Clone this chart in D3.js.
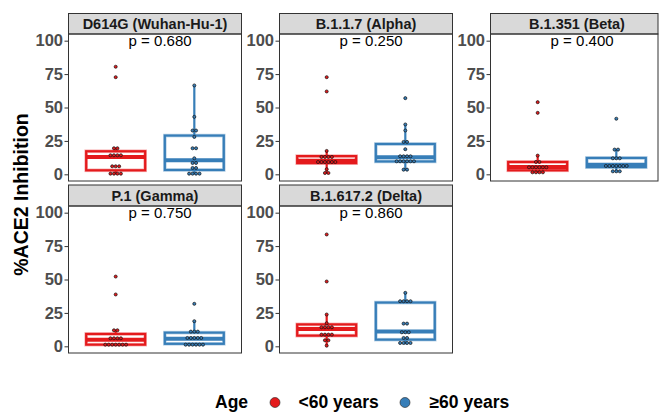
<!DOCTYPE html>
<html>
<head>
<meta charset="utf-8">
<script src="https://cdn.jsdelivr.net/npm/d3@7"></script>
<style>
  html, body { margin: 0; padding: 0; background: #fff; }
  svg { display: block; }
</style>
</head>
<body>
<svg id="chart" width="659" height="413"></svg>
<script>
// ---------- data ----------
const variants = ["D614G (Wuhan-Hu-1)", "B.1.1.7 (Alpha)", "B.1.351 (Beta)", "P.1 (Gamma)", "B.1.617.2 (Delta)"];
const pLabels = ["p = 0.680", "p = 0.250", "p = 0.400", "p = 0.750", "p = 0.860"];
const ageGroups = ["<60 years", "\u226560 years"];
const ageColors = ["#E41A1C", "#377EB8"];
const yTicks = [0, 25, 50, 75, 100];

// %ACE2 inhibition, age < 60 years, one array per variant
const under60 = [
  [0, 0, 0, 1, 5, 6, 7, 13, 13.5, 14, 15.5, 19, 20, 72.7, 80.5],
  [0.5, 1.5, 3.8, 8, 8.5, 8.8, 9.2, 9.8, 10.4, 12, 13, 13.5, 14, 17.5, 62, 72.7],
  [1, 1, 2, 2, 4, 4.5, 5, 5.5, 6, 6.5, 8.5, 10, 14, 46, 54],
  [0.5, 0.5, 1, 1, 1.5, 2, 2, 5, 5.5, 6, 7, 11.5, 12.5, 38.8, 52.2],
  [0.5, 4, 5, 7.5, 8.5, 9, 10, 13, 14, 14.5, 15.5, 17.3, 23.8, 48.5, 83.7]
];
// %ACE2 inhibition, age >= 60 years, one array per variant
const over60 = [
  [0, 0, 0, 1, 4, 5.5, 8, 9, 12, 19, 20, 28, 32, 33.5, 43, 66.5],
  [3, 4, 8.5, 9, 9.5, 10, 10.5, 11, 12.5, 13, 13.5, 14.5, 18.8, 24, 24.5, 32.8, 37.3, 57],
  [1.5, 2.5, 3, 5, 5.5, 6, 6.5, 7, 7.2, 7.5, 11, 12, 13, 18, 19, 41.6],
  [0.5, 1, 1, 1.5, 2, 2, 5, 5.5, 6, 6.5, 7.5, 10, 11, 12, 18.8, 31.8],
  [1.5, 2, 2.5, 3.5, 5.5, 7, 9.5, 10.5, 11.5, 16.5, 17.5, 32.5, 33.5, 34, 35, 40]
];

// ---------- layout ----------
const svg = d3.select("#chart");
const font = "'Liberation Sans', Arial, Helvetica, sans-serif";
const panelW = 173;
const colLefts = [68.5, 279.5, 490.5];
const rows = [
  { stripTop: 13.5, plotTop: 34, plotBottom: 181 },
  { stripTop: 185, plotTop: 206, plotBottom: 353 }
];
const maxRight = 658;

const allVals = under60.flat().concat(over60.flat());
const binwidth = (d3.max(allVals) - d3.min(allVals)) / 30;

function dotBins(vals) {
  const s = vals.slice().sort((a, b) => a - b);
  const bins = [];
  let i = 0;
  while (i < s.length) {
    let j = i;
    while (j < s.length && s[j] < s[i] + binwidth) j++;
    bins.push({ center: (s[i] + s[j - 1]) / 2, count: j - i });
    i = j;
  }
  return bins;
}

function boxStats(vals) {
  const s = vals.slice().sort((a, b) => a - b);
  const q1 = d3.quantileSorted(s, 0.25), med = d3.quantileSorted(s, 0.5), q3 = d3.quantileSorted(s, 0.75);
  const iqr = q3 - q1;
  const lo = d3.min(s.filter(v => v >= q1 - 1.5 * iqr));
  const hi = d3.max(s.filter(v => v <= q3 + 1.5 * iqr));
  return { q1, med, q3, lo, hi };
}

variants.forEach((name, vi) => {
  const r = rows[Math.floor(vi / 3)];
  const left = colLefts[vi % 3];
  const w = Math.min(panelW, maxRight - left);
  const g = svg.append("g").attr("transform", `translate(${left},0)`);

  const x = d3.scalePoint().domain(ageGroups).range([0, panelW]).padding(0.6);
  const xl = d3.scaleLinear().domain([0.4, 2.6]).range([0, panelW]);
  const y = d3.scaleLinear().domain([-5, 105]).range([r.plotBottom, r.plotTop]);
  const step = x.step();

  // strip
  g.append("rect").attr("x", 0).attr("y", r.stripTop).attr("width", w).attr("height", r.plotTop - r.stripTop)
    .attr("fill", "#D9D9D9").attr("stroke", "#333").attr("stroke-width", 1);
  g.append("text").attr("x", panelW / 2).attr("y", (r.stripTop + r.plotTop) / 2).attr("dy", "0.36em")
    .attr("text-anchor", "middle").attr("font-family", font).attr("font-weight", "bold")
    .attr("font-size", 14.5).attr("fill", "#1a1a1a").text(name);

  // y axis
  const ax = g.append("g").call(d3.axisLeft(y).tickValues(yTicks).tickSize(4).tickPadding(1.5));
  ax.select(".domain").remove();
  ax.selectAll(".tick line").attr("stroke", "#333").attr("stroke-width", 1);
  ax.selectAll(".tick text").attr("font-family", font).attr("font-weight", "bold")
    .attr("font-size", 16.5).attr("fill", "#4D4D4D");

  // boxes
  [under60[vi], over60[vi]].forEach((vals, gi) => {
    const st = boxStats(vals);
    const cx = x(ageGroups[gi]);
    const bw = 0.75 * step;
    const col = ageColors[gi];
    const bg = g.append("g");
    bg.append("line").attr("x1", cx).attr("x2", cx).attr("y1", y(st.q3)).attr("y2", y(st.hi))
      .attr("stroke", col).attr("stroke-width", 2.2);
    bg.append("line").attr("x1", cx).attr("x2", cx).attr("y1", y(st.q1)).attr("y2", y(st.lo))
      .attr("stroke", col).attr("stroke-width", 2.2);
    bg.append("rect").attr("x", cx - bw / 2).attr("y", y(st.q3)).attr("width", bw)
      .attr("height", y(st.q1) - y(st.q3)).attr("fill", "#fff")
      .attr("stroke", col).attr("stroke-opacity", 0.35).attr("stroke-width", 3.6);
    bg.append("rect").attr("x", cx - bw / 2).attr("y", y(st.q3)).attr("width", bw)
      .attr("height", y(st.q1) - y(st.q3)).attr("fill", "none")
      .attr("stroke", col).attr("stroke-width", 2.2);
    bg.append("line").attr("x1", cx - bw / 2).attr("x2", cx + bw / 2).attr("y1", y(st.med)).attr("y2", y(st.med))
      .attr("stroke", col).attr("stroke-width", 4);
  });

  // dots (dotplot, centered stacks)
  [under60[vi], over60[vi]].forEach((vals, gi) => {
    const cx = x(ageGroups[gi]);
    const d = Math.abs(y(0) - y(binwidth)) * 0.93;
    const pts = [];
    dotBins(vals).forEach(b => {
      for (let k = 0; k < b.count; k++) pts.push({ v: b.center, off: (k - (b.count - 1) / 2) * d });
    });
    g.append("g").selectAll("circle").data(pts).join("circle")
      .attr("cx", p => cx + p.off).attr("cy", p => y(p.v)).attr("r", d / 2 - 0.2)
      .attr("fill", ageColors[gi]).attr("stroke", "#111").attr("stroke-width", 0.7);
  });

  // p label
  g.append("text").attr("x", xl(1.565)).attr("y", y(100)).attr("dy", "0.36em")
    .attr("text-anchor", "middle").attr("font-family", font).attr("font-size", 15)
    .attr("fill", "#000").text(pLabels[vi]);

  // panel border
  g.append("rect").attr("x", 0).attr("y", r.plotTop).attr("width", w).attr("height", r.plotBottom - r.plotTop)
    .attr("fill", "none").attr("stroke", "#333").attr("stroke-width", 1);
});

// y axis title
svg.append("text").attr("transform", "translate(28,194.5) rotate(-90)")
  .attr("text-anchor", "middle").attr("font-family", font).attr("font-weight", "bold")
  .attr("font-size", 19.5).attr("fill", "#000").text("%ACE2 Inhibition");

// legend
const lg = svg.append("g").attr("font-family", font).attr("font-weight", "bold").attr("font-size", 17.5);
lg.append("text").attr("x", 215).attr("y", 407.5).text("Age");
const legendCx = [275, 405];
const legendTx = [298.5, 429.5];
ageGroups.forEach((a, i) => {
  lg.append("circle").attr("cx", legendCx[i]).attr("cy", 402.5).attr("r", 5)
    .attr("fill", ageColors[i]).attr("stroke", "#222").attr("stroke-width", 0.6);
  lg.append("text").attr("x", legendTx[i]).attr("y", 407.5).text(a);
});
</script>
</body>
</html>
